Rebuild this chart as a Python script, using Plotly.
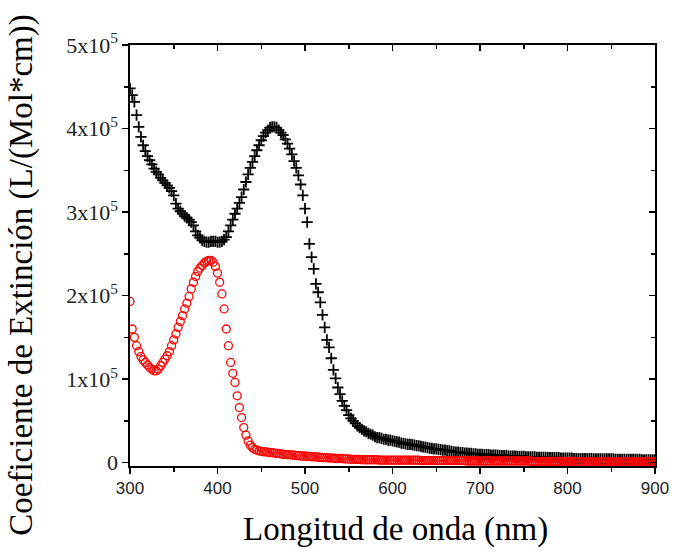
import numpy as np
import plotly.graph_objects as go

# Wavelength grid (nm)
wavelength = list(np.arange(300, 902.5, 2.5))

# Extinction coefficient, units of 1e5 L/(Mol*cm)
black_values = [
    4.48, 4.40, 4.32, 4.16, 4.02, 3.90, 3.80, 3.73, 3.67, 3.62,
    3.57, 3.52, 3.48, 3.45, 3.41, 3.38, 3.35, 3.32, 3.29, 3.25,
    3.20, 3.10, 3.04, 3.01, 2.98, 2.95, 2.93, 2.91, 2.88, 2.84,
    2.77, 2.72, 2.69, 2.66, 2.65, 2.64, 2.64, 2.65, 2.65, 2.65,
    2.64, 2.64, 2.65, 2.67, 2.70, 2.77, 2.84, 2.91, 2.98, 3.04,
    3.11, 3.18, 3.27, 3.36, 3.45, 3.53, 3.60, 3.67, 3.74, 3.80,
    3.86, 3.91, 3.95, 3.98, 4.01, 4.02, 4.02, 4.01, 3.98, 3.95,
    3.92, 3.87, 3.82, 3.76, 3.69, 3.61, 3.53, 3.44, 3.33, 3.20,
    3.04, 2.88, 2.62, 2.46, 2.32, 2.14, 2.04, 1.92, 1.77, 1.62,
    1.47, 1.38, 1.25, 1.11, 1.01, 0.90, 0.82, 0.74, 0.68, 0.63,
    0.57, 0.53, 0.50, 0.47, 0.44, 0.42, 0.40, 0.38, 0.37, 0.35,
    0.34, 0.33, 0.31, 0.30, 0.30, 0.29, 0.28, 0.28, 0.27, 0.27,
    0.26, 0.255, 0.25, 0.245, 0.235, 0.23, 0.225, 0.22, 0.22, 0.215,
    0.21, 0.205, 0.20, 0.195, 0.19, 0.185, 0.18, 0.175, 0.17, 0.165,
    0.165, 0.16, 0.155, 0.15, 0.15, 0.145, 0.14, 0.135, 0.13, 0.125,
    0.125, 0.12, 0.12, 0.115, 0.115, 0.11, 0.11, 0.105, 0.105, 0.10,
    0.10, 0.10, 0.095, 0.095, 0.095, 0.09, 0.09, 0.09, 0.09, 0.085,
    0.085, 0.085, 0.085, 0.08, 0.08, 0.08, 0.08, 0.075, 0.075, 0.075,
    0.075, 0.07, 0.07, 0.07, 0.07, 0.07, 0.065, 0.065, 0.065, 0.065,
    0.065, 0.06, 0.06, 0.06, 0.06, 0.06, 0.06, 0.055, 0.055, 0.055,
    0.055, 0.055, 0.055, 0.05, 0.05, 0.05, 0.05, 0.05, 0.05, 0.05,
    0.05, 0.05, 0.045, 0.045, 0.045, 0.045, 0.045, 0.045, 0.045, 0.045,
    0.045, 0.045, 0.04, 0.04, 0.04, 0.04, 0.04, 0.04, 0.04, 0.04,
    0.04, 0.04, 0.04, 0.04, 0.035, 0.035, 0.035, 0.035, 0.035, 0.035,
    0.035,
]

red_values = [
    1.93, 1.60, 1.50, 1.40, 1.33, 1.27, 1.23, 1.20, 1.17, 1.14,
    1.12, 1.10, 1.10, 1.12, 1.16, 1.20, 1.24, 1.28, 1.33, 1.40,
    1.47, 1.54, 1.62, 1.69, 1.76, 1.84, 1.91, 1.99, 2.08, 2.16,
    2.23, 2.29, 2.33, 2.36, 2.39, 2.41, 2.42, 2.42, 2.40, 2.35,
    2.27, 2.16, 2.02, 1.84, 1.60, 1.40, 1.20, 1.07, 0.96, 0.80,
    0.66, 0.54, 0.42, 0.33, 0.26, 0.21, 0.18, 0.16, 0.15, 0.14,
    0.135, 0.13, 0.13, 0.125, 0.12, 0.12, 0.115, 0.11, 0.11, 0.105,
    0.10, 0.10, 0.095, 0.095, 0.09, 0.09, 0.085, 0.085, 0.08, 0.08,
    0.08, 0.075, 0.075, 0.07, 0.07, 0.07, 0.065, 0.065, 0.06, 0.06,
    0.06, 0.055, 0.055, 0.055, 0.05, 0.05, 0.05, 0.05, 0.045, 0.045,
    0.045, 0.04, 0.04, 0.04, 0.04, 0.04, 0.035, 0.035, 0.035, 0.035,
    0.035, 0.035, 0.035, 0.035, 0.03, 0.03, 0.03, 0.03, 0.03, 0.03,
    0.03, 0.03, 0.03, 0.03, 0.03, 0.03, 0.03, 0.03, 0.03, 0.03,
    0.03, 0.03, 0.03, 0.025, 0.025, 0.025, 0.025, 0.025, 0.025, 0.025,
    0.025, 0.025, 0.025, 0.025, 0.025, 0.025, 0.025, 0.025, 0.025, 0.025,
    0.025, 0.025, 0.025, 0.025, 0.02, 0.02, 0.02, 0.02, 0.02, 0.02,
    0.02, 0.02, 0.02, 0.02, 0.02, 0.02, 0.02, 0.02, 0.02, 0.02,
    0.02, 0.02, 0.02, 0.02, 0.02, 0.02, 0.02, 0.02, 0.02, 0.02,
    0.02, 0.02, 0.02, 0.02, 0.015, 0.015, 0.015, 0.015, 0.015, 0.015,
    0.015, 0.015, 0.015, 0.015, 0.015, 0.015, 0.015, 0.015, 0.015, 0.015,
    0.015, 0.015, 0.015, 0.015, 0.01, 0.01, 0.01, 0.01, 0.01, 0.01,
    0.01, 0.01, 0.01, 0.01, 0.01, 0.01, 0.01, 0.01, 0.01, 0.01,
    0.01, 0.01, 0.01, 0.01, 0.01, 0.01, 0.01, 0.01, 0.01, 0.01,
    0.01, 0.01, 0.01, 0.01, 0.01, 0.01, 0.01, 0.01, 0.01, 0.01,
    0.01,
]

x_tickvals = [300, 400, 500, 600, 700, 800, 900]
y_tickvals = [0, 1, 2, 3, 4, 5]
y_ticktext = ["0", "1x10<sup>5</sup>", "2x10<sup>5</sup>", "3x10<sup>5</sup>",
              "4x10<sup>5</sup>", "5x10<sup>5</sup>"]

x_title = "Longitud de onda (nm)"
y_title = "Coeficiente de Extinción (L/(Mol*cm))"

fig = go.Figure()
fig.add_trace(go.Scatter(
    x=wavelength, y=black_values, mode="markers",
    marker=dict(symbol="cross-thin", size=8, color="black",
                line=dict(color="black", width=1.8)),
    showlegend=False,
))
fig.add_trace(go.Scatter(
    x=wavelength, y=red_values, mode="markers",
    marker=dict(symbol="circle-open", size=8, color="#ff0000",
                line=dict(color="#ff0000", width=1.3)),
    showlegend=False,
))
# empty trace so the mirrored (top/right) frame axes are drawn
fig.add_trace(go.Scatter(x=[None], y=[None], xaxis="x2", yaxis="y2",
                         mode="markers", showlegend=False, hoverinfo="skip"))

axis_line = dict(showline=True, linecolor="black", linewidth=1.6, showgrid=False,
                 zeroline=False, automargin=False)

fig.update_layout(
    width=675, height=555,
    margin=dict(l=130, r=20, t=45, b=89),
    paper_bgcolor="white", plot_bgcolor="white",
    xaxis=dict(
        range=[300, 900], tickmode="array", tickvals=x_tickvals,
        ticks="outside", ticklen=6, tickwidth=1.5, tickcolor="black",
        tickfont=dict(family="Liberation Sans", size=17, color="#222"),
        minor=dict(tickmode="linear", tick0=300, dtick=50, ticks="outside",
                   ticklen=4, tickwidth=1.5, tickcolor="black"),
        **axis_line,
    ),
    yaxis=dict(
        range=[-0.04, 5.0], tickmode="array", tickvals=y_tickvals, ticktext=y_ticktext,
        ticks="outside", ticklen=6, tickwidth=1.5, tickcolor="black",
        tickfont=dict(family="Liberation Serif", size=22, color="#222"),
        minor=dict(tickmode="linear", tick0=0, dtick=0.5, ticks="outside",
                   ticklen=4, tickwidth=1.5, tickcolor="black"),
        **axis_line,
    ),
    xaxis2=dict(
        overlaying="x", side="top", range=[300, 900], tickmode="array", tickvals=x_tickvals,
        ticks="inside", ticklen=6, tickwidth=1.5, tickcolor="black", showticklabels=False,
        minor=dict(tickmode="linear", tick0=300, dtick=50, ticks="inside",
                   ticklen=4, tickwidth=1.5, tickcolor="black"),
        **axis_line,
    ),
    yaxis2=dict(
        overlaying="y", side="right", range=[-0.04, 5.0], tickmode="array", tickvals=y_tickvals,
        ticks="inside", ticklen=6, tickwidth=1.5, tickcolor="black", showticklabels=False,
        minor=dict(tickmode="linear", tick0=0, dtick=0.5, ticks="inside",
                   ticklen=4, tickwidth=1.5, tickcolor="black"),
        **axis_line,
    ),
    annotations=[
        dict(text=x_title, xref="paper", yref="paper", x=0.505, y=-0.152,
             xanchor="center", yanchor="middle", showarrow=False,
             font=dict(family="Liberation Serif", size=33, color="black")),
        dict(text=y_title, xref="paper", yref="paper", x=-0.206, y=0.454,
             xanchor="center", yanchor="middle", textangle=-90, showarrow=False,
             font=dict(family="Liberation Serif", size=33, color="black")),
    ],
)

fig.write_html("out.html",
               config={"displayModeBar": False, "staticPlot": True},
               post_script="document.body.style.margin='0';document.body.style.overflow='hidden';")
